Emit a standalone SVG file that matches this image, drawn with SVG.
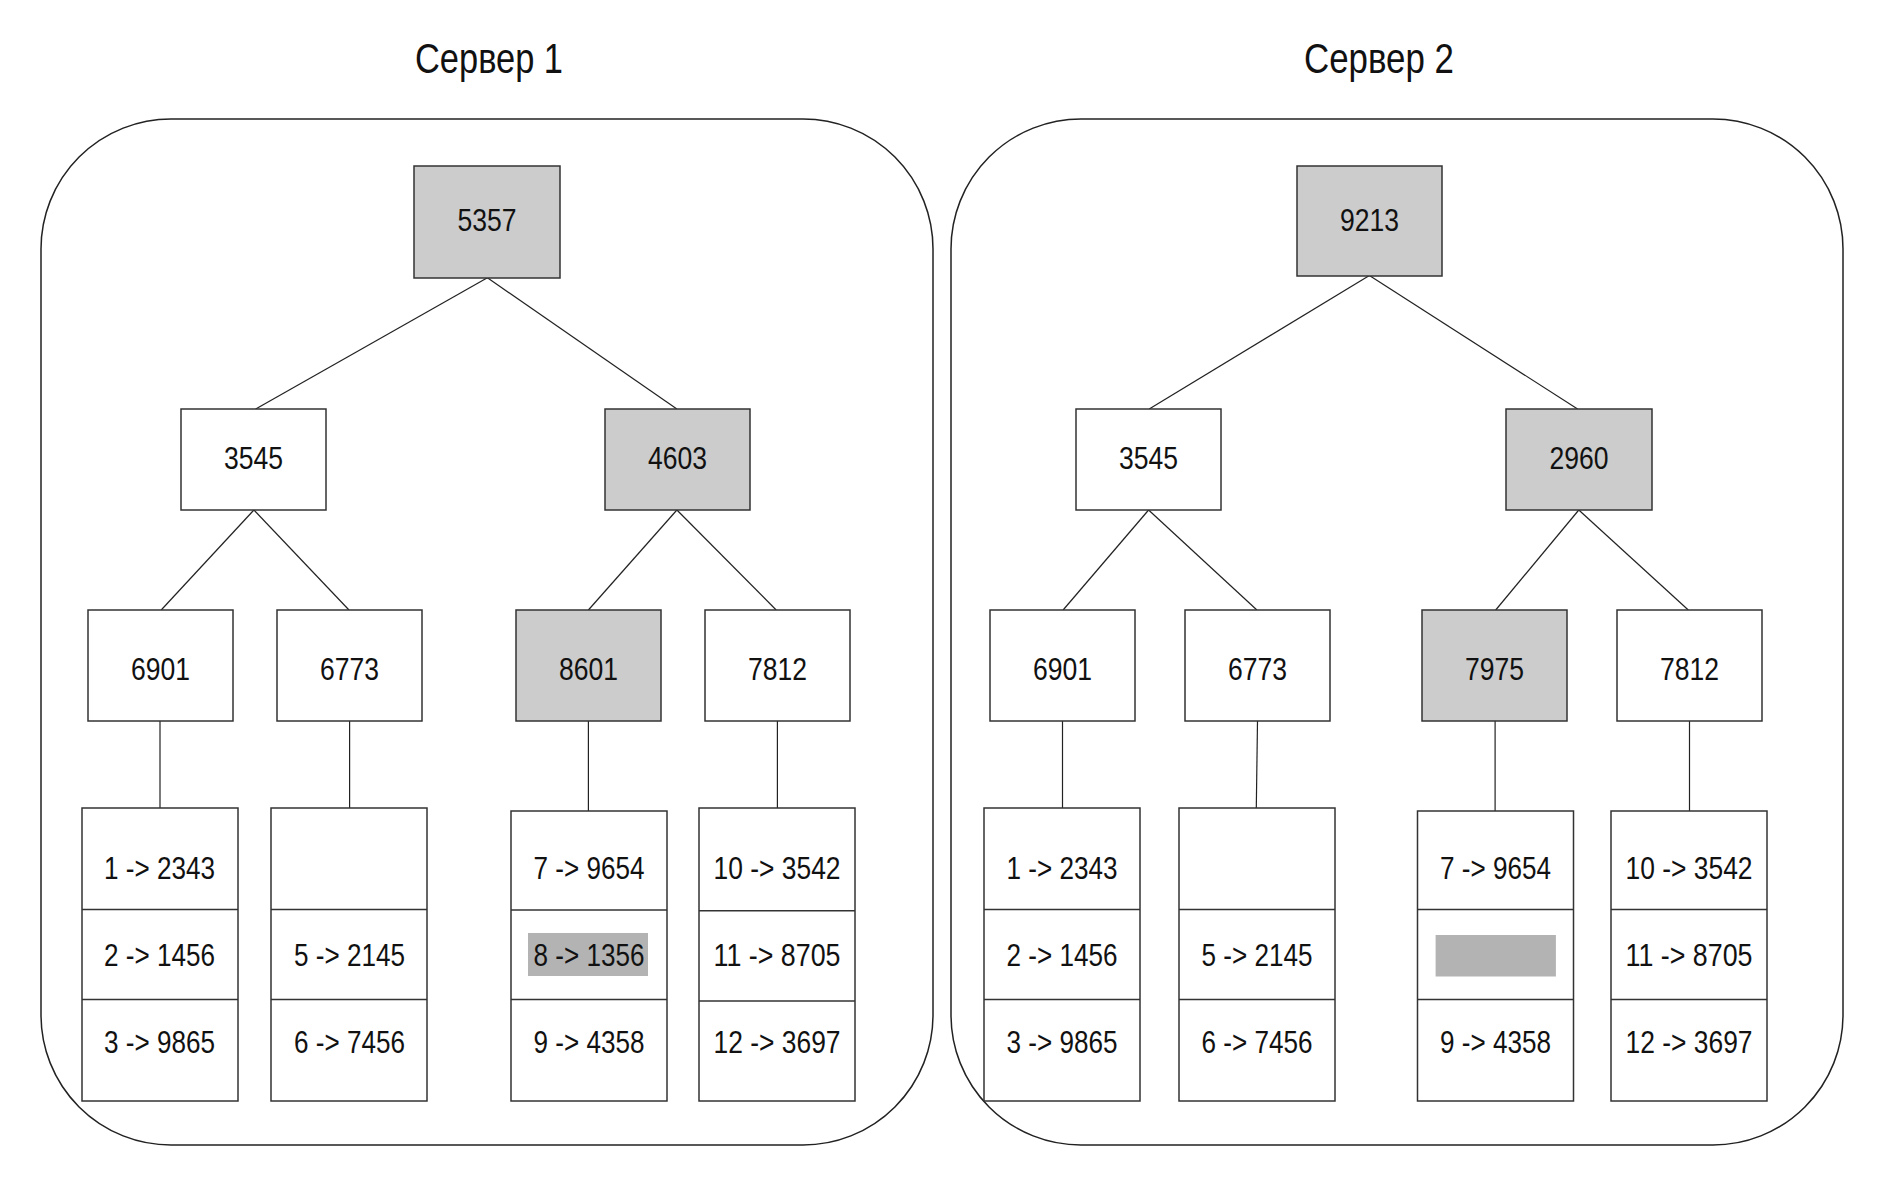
<svg xmlns="http://www.w3.org/2000/svg" width="1888" height="1180" viewBox="0 0 1888 1180">
<style>
.bg{fill:#ffffff}
.server{fill:none;stroke:#222;stroke-width:1.5}
.node{fill:#ffffff;stroke:#333;stroke-width:1.5}
.hot{fill:#cccccc;stroke:#333;stroke-width:1.5}
.mark{fill:#b3b3b3;stroke:none}
.sep{stroke:#333;stroke-width:1.5}
.conn line{stroke:#222;stroke-width:1.2}
text{font-family:"Liberation Sans Narrow","Liberation Sans",Arial,sans-serif;fill:#111;text-anchor:middle}
.t{font-size:32px}
.title{font-size:42px}
</style>
<rect class="bg" x="0" y="0" width="1888" height="1180"/>

<g id="title-1"><text class="title" x="489" y="73" textLength="148" lengthAdjust="spacingAndGlyphs">Сервер 1</text></g>
<g id="title-2"><text class="title" x="1379" y="73" textLength="150" lengthAdjust="spacingAndGlyphs">Сервер 2</text></g>

<g id="server-1"><rect class="server" x="41" y="119" width="892" height="1026" rx="130" ry="130"/></g>
<g id="server-2"><rect class="server" x="951" y="119" width="892" height="1026" rx="130" ry="130"/></g>

<g id="connectors" class="conn">
<line x1="487.4" y1="277.8" x2="255.7" y2="409"/>
<line x1="487.4" y1="277.8" x2="676.9" y2="409"/>
<line x1="253.9" y1="510" x2="161.2" y2="610"/>
<line x1="253.9" y1="510" x2="349" y2="610"/>
<line x1="676.9" y1="510" x2="588.4" y2="610"/>
<line x1="676.9" y1="510" x2="776.2" y2="610"/>
<line x1="160" y1="721" x2="160" y2="808"/>
<line x1="349.6" y1="721" x2="349.6" y2="808"/>
<line x1="588.4" y1="721" x2="588.4" y2="811"/>
<line x1="777.4" y1="721" x2="777.4" y2="808"/>
<line x1="1369.4" y1="275.5" x2="1149.2" y2="409"/>
<line x1="1369.4" y1="275.5" x2="1577.6" y2="409"/>
<line x1="1148.6" y1="510" x2="1063.1" y2="610"/>
<line x1="1148.6" y1="510" x2="1256.9" y2="610"/>
<line x1="1578.8" y1="510" x2="1495.7" y2="610"/>
<line x1="1578.8" y1="510" x2="1688.3" y2="610"/>
<line x1="1062.5" y1="721" x2="1062.5" y2="808"/>
<line x1="1257.5" y1="721" x2="1256.3" y2="808"/>
<line x1="1495.1" y1="721" x2="1495.1" y2="811"/>
<line x1="1689.5" y1="721" x2="1689.5" y2="811"/>
</g>

<!-- Server 1 -->
<g id="s1-root"><rect class="hot" x="414" y="166" width="146" height="112"/><text class="t" x="487" y="230.5" textLength="59" lengthAdjust="spacingAndGlyphs">5357</text></g>
<g id="s1-3545"><rect class="node" x="181" y="409" width="145" height="101"/><text class="t" x="253.5" y="468.5" textLength="59" lengthAdjust="spacingAndGlyphs">3545</text></g>
<g id="s1-4603"><rect class="hot" x="605" y="409" width="145" height="101"/><text class="t" x="677.5" y="468.5" textLength="59" lengthAdjust="spacingAndGlyphs">4603</text></g>
<g id="s1-6901"><rect class="node" x="88" y="610" width="145" height="111"/><text class="t" x="160.5" y="680.3" textLength="59" lengthAdjust="spacingAndGlyphs">6901</text></g>
<g id="s1-6773"><rect class="node" x="277" y="610" width="145" height="111"/><text class="t" x="349.5" y="680.3" textLength="59" lengthAdjust="spacingAndGlyphs">6773</text></g>
<g id="s1-8601"><rect class="hot" x="516" y="610" width="145" height="111"/><text class="t" x="588.5" y="680.3" textLength="59" lengthAdjust="spacingAndGlyphs">8601</text></g>
<g id="s1-7812"><rect class="node" x="705" y="610" width="145" height="111"/><text class="t" x="777.5" y="680.3" textLength="59" lengthAdjust="spacingAndGlyphs">7812</text></g>

<g id="s1-leaf-1"><rect class="node" x="82" y="808" width="156" height="293"/><line class="sep" x1="82" y1="909.5" x2="238" y2="909.5"/><line class="sep" x1="82" y1="999.5" x2="238" y2="999.5"/>
<text class="t" x="159.5" y="879.3" textLength="111" lengthAdjust="spacingAndGlyphs">1 -&gt; 2343</text>
<text class="t" x="159.5" y="966" textLength="111" lengthAdjust="spacingAndGlyphs">2 -&gt; 1456</text>
<text class="t" x="159.5" y="1053" textLength="111" lengthAdjust="spacingAndGlyphs">3 -&gt; 9865</text></g>
<g id="s1-leaf-2"><rect class="node" x="271" y="808" width="156" height="293"/><line class="sep" x1="271" y1="909.5" x2="427" y2="909.5"/><line class="sep" x1="271" y1="999.5" x2="427" y2="999.5"/>
<text class="t" x="349.5" y="966" textLength="111" lengthAdjust="spacingAndGlyphs">5 -&gt; 2145</text>
<text class="t" x="349.5" y="1053" textLength="111" lengthAdjust="spacingAndGlyphs">6 -&gt; 7456</text></g>
<g id="s1-leaf-3"><rect class="node" x="511" y="811" width="156" height="290"/><line class="sep" x1="511" y1="910" x2="667" y2="910"/><line class="sep" x1="511" y1="999.5" x2="667" y2="999.5"/>
<text class="t" x="589" y="879.3" textLength="111" lengthAdjust="spacingAndGlyphs">7 -&gt; 9654</text>
<rect class="mark" x="528" y="933" width="120" height="43"/>
<text class="t" x="589" y="966" textLength="111" lengthAdjust="spacingAndGlyphs">8 -&gt; 1356</text>
<text class="t" x="589" y="1053" textLength="111" lengthAdjust="spacingAndGlyphs">9 -&gt; 4358</text></g>
<g id="s1-leaf-4"><rect class="node" x="699" y="808" width="156" height="293"/><line class="sep" x1="699" y1="910.7" x2="855" y2="910.7"/><line class="sep" x1="699" y1="1001" x2="855" y2="1001"/>
<text class="t" x="777" y="879.3" textLength="127" lengthAdjust="spacingAndGlyphs">10 -&gt; 3542</text>
<text class="t" x="777" y="966" textLength="127" lengthAdjust="spacingAndGlyphs">11 -&gt; 8705</text>
<text class="t" x="777" y="1053" textLength="127" lengthAdjust="spacingAndGlyphs">12 -&gt; 3697</text></g>

<!-- Server 2 -->
<g id="s2-root"><rect class="hot" x="1297" y="166" width="145" height="110"/><text class="t" x="1369.5" y="230.5" textLength="59" lengthAdjust="spacingAndGlyphs">9213</text></g>
<g id="s2-3545"><rect class="node" x="1076" y="409" width="145" height="101"/><text class="t" x="1148.5" y="468.5" textLength="59" lengthAdjust="spacingAndGlyphs">3545</text></g>
<g id="s2-2960"><rect class="hot" x="1506" y="409" width="146" height="101"/><text class="t" x="1579" y="468.5" textLength="59" lengthAdjust="spacingAndGlyphs">2960</text></g>
<g id="s2-6901"><rect class="node" x="990" y="610" width="145" height="111"/><text class="t" x="1062.5" y="680.3" textLength="59" lengthAdjust="spacingAndGlyphs">6901</text></g>
<g id="s2-6773"><rect class="node" x="1185" y="610" width="145" height="111"/><text class="t" x="1257.5" y="680.3" textLength="59" lengthAdjust="spacingAndGlyphs">6773</text></g>
<g id="s2-7975"><rect class="hot" x="1422" y="610" width="145" height="111"/><text class="t" x="1494.5" y="680.3" textLength="59" lengthAdjust="spacingAndGlyphs">7975</text></g>
<g id="s2-7812"><rect class="node" x="1617" y="610" width="145" height="111"/><text class="t" x="1689.5" y="680.3" textLength="59" lengthAdjust="spacingAndGlyphs">7812</text></g>

<g id="s2-leaf-1"><rect class="node" x="984" y="808" width="156" height="293"/><line class="sep" x1="984" y1="909.5" x2="1140" y2="909.5"/><line class="sep" x1="984" y1="999.5" x2="1140" y2="999.5"/>
<text class="t" x="1062" y="879.3" textLength="111" lengthAdjust="spacingAndGlyphs">1 -&gt; 2343</text>
<text class="t" x="1062" y="966" textLength="111" lengthAdjust="spacingAndGlyphs">2 -&gt; 1456</text>
<text class="t" x="1062" y="1053" textLength="111" lengthAdjust="spacingAndGlyphs">3 -&gt; 9865</text></g>
<g id="s2-leaf-2"><rect class="node" x="1179" y="808" width="156" height="293"/><line class="sep" x1="1179" y1="909.5" x2="1335" y2="909.5"/><line class="sep" x1="1179" y1="999.5" x2="1335" y2="999.5"/>
<text class="t" x="1257" y="966" textLength="111" lengthAdjust="spacingAndGlyphs">5 -&gt; 2145</text>
<text class="t" x="1257" y="1053" textLength="111" lengthAdjust="spacingAndGlyphs">6 -&gt; 7456</text></g>
<g id="s2-leaf-3"><rect class="node" x="1417.5" y="811" width="156" height="290"/><line class="sep" x1="1417.5" y1="909.5" x2="1573.5" y2="909.5"/><line class="sep" x1="1417.5" y1="999.5" x2="1573.5" y2="999.5"/>
<text class="t" x="1495.5" y="879.3" textLength="111" lengthAdjust="spacingAndGlyphs">7 -&gt; 9654</text>
<rect class="mark" x="1435.6" y="935" width="120.3" height="41.5"/>
<text class="t" x="1495.5" y="1053" textLength="111" lengthAdjust="spacingAndGlyphs">9 -&gt; 4358</text></g>
<g id="s2-leaf-4"><rect class="node" x="1611" y="811" width="156" height="290"/><line class="sep" x1="1611" y1="909.5" x2="1767" y2="909.5"/><line class="sep" x1="1611" y1="999.5" x2="1767" y2="999.5"/>
<text class="t" x="1689" y="879.3" textLength="127" lengthAdjust="spacingAndGlyphs">10 -&gt; 3542</text>
<text class="t" x="1689" y="966" textLength="127" lengthAdjust="spacingAndGlyphs">11 -&gt; 8705</text>
<text class="t" x="1689" y="1053" textLength="127" lengthAdjust="spacingAndGlyphs">12 -&gt; 3697</text></g>
</svg>
